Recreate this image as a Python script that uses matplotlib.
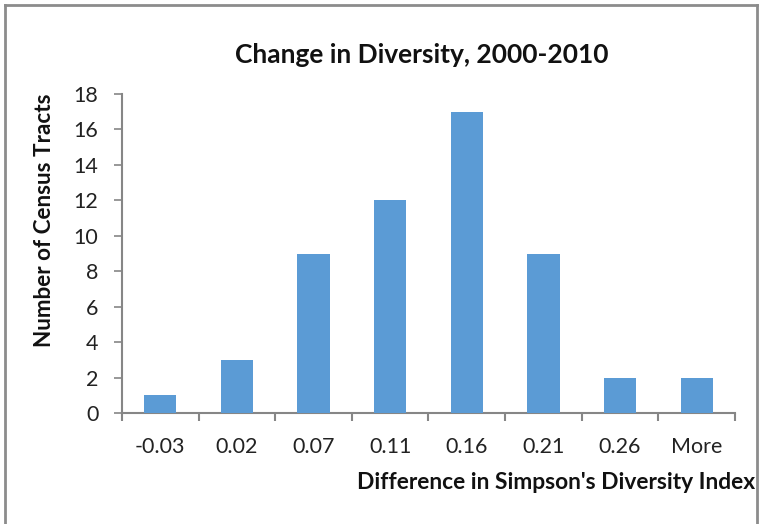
import matplotlib
matplotlib.use("Agg")
import matplotlib.pyplot as plt
from matplotlib.lines import Line2D
import numpy as np

# Histogram bins (upper edges) and tract counts
bins = ["-0.03", "0.02", "0.07", "0.11", "0.16", "0.21", "0.26", "More"]
counts = [1, 3, 9, 12, 17, 9, 2, 2]
y_ticks = [0, 2, 4, 6, 8, 10, 12, 14, 16, 18]

plt.rcParams["font.family"] = ["Lato", "DejaVu Sans"]

fig = plt.figure(figsize=(7.6, 5.24), dpi=100)
ax = fig.add_axes([0.1605, 0.2118, 0.8066, 0.6088])

x = np.arange(len(bins))
ax.bar(x, counts, width=0.42, color="#5B9BD5", zorder=3)

ax.set_xlim(-0.5, len(bins) - 0.5)
ax.set_ylim(0, 18)
ax.set_yticks(y_ticks)
ax.set_yticklabels([str(v) for v in y_ticks], fontsize=15.5, color="#222222")

# Category labels centred under bars, tick marks at category boundaries
ax.set_xticks(x)
ax.set_xticklabels(bins, fontsize=15.5, color="#222222")
ax.tick_params(axis="x", length=0, pad=17)
ax.set_xticks(np.arange(-0.5, len(bins)), minor=True)
ax.tick_params(axis="x", which="minor", length=6, width=1.5, color="#868686",
               direction="out")
ax.tick_params(axis="y", length=6, width=1.2, color="#868686", direction="out",
               pad=11)

for side in ("top", "right"):
    ax.spines[side].set_visible(False)
for side in ("left", "bottom"):
    ax.spines[side].set_color("#868686")
    ax.spines[side].set_linewidth(1.5)

fig.text(0.555, 0.895, "Change in Diversity, 2000-2010", ha="center",
         va="center", fontsize=19, fontweight="bold", color="#111111")
fig.text(0.058, 0.58, "Number of Census Tracts", rotation=90, ha="center",
         va="center", fontsize=16.2, fontweight="bold", color="#111111")
fig.text(0.993, 0.08, "Difference in Simpson's Diversity Index", ha="right",
         va="center", fontsize=16.4, fontweight="bold", color="#111111")

# Outer chart border (left, top, right)
border = dict(color="#8c8c8c", linewidth=2, transform=fig.transFigure)
fig.add_artist(Line2D([0.007, 0.007], [0.0, 0.99], **border))
fig.add_artist(Line2D([0.007, 0.996], [0.99, 0.99], **border))
fig.add_artist(Line2D([0.996, 0.996], [0.0, 0.99], **border))

fig.savefig("out.png", dpi=100)
